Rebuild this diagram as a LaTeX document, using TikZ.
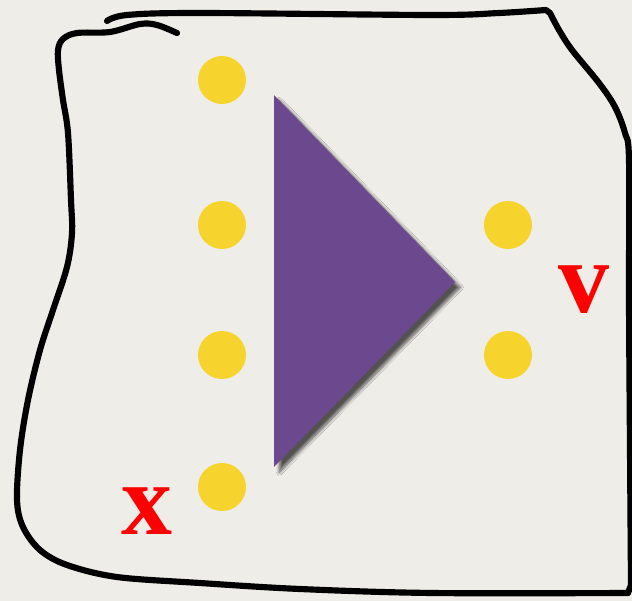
\documentclass[tikz,border=0pt]{standalone}
\usepackage{xcolor}
\usepackage{fontspec}
\newfontfamily\labelfont{Liberation Serif}
\usetikzlibrary{shadows.blur}

\definecolor{paper}{RGB}{239,237,232}
\definecolor{dotYellow}{RGB}{246,212,45}
\definecolor{triPurple}{RGB}{108,72,142}

\begin{document}
\begin{tikzpicture}[
    x=0.02cm, y=-0.02cm,
    % ── shapes ──
    dot/.style      = {circle, fill=dotYellow, draw=none,
                       minimum size=0.96cm, inner sep=0pt},
    tri/.style      = {fill=triPurple, draw=none,
                       blur shadow={shadow xshift=3pt, shadow yshift=-3pt,
                                    shadow blur steps=10, shadow opacity=65}},
    % ── hand-drawn frame ──
    frame/.style    = {draw=black, line width=3.5pt, line cap=round,
                       line join=round},
    % ── text styles ──
    varLabel/.style = {font=\labelfont\bfseries\fontsize{58}{60}\selectfont,
                       text=red, inner sep=0pt},
]

% =====================================================================
% paper background   (632 x 601 px)
% =====================================================================
\fill[paper] (0,0) rectangle (632,601);
\useasboundingbox (0,0) rectangle (632,601);

% =====================================================================
% frame   (one stroke, starts top left, ends in the small wave)
% =====================================================================
\draw[frame] plot[smooth, tension=0.55] coordinates {
    (107,21) (127,15) (200,13) (432,15) (499,13) (546,10)}
  -- plot[smooth, tension=0.55] coordinates {
    (550,13) (559,30) (572,50) (599,83) (615,107) (625,133) (629,160)
    (629,300) (630,450) (631,585)}
  -- plot[smooth, tension=0.55] coordinates {
    (628,593) (432,593) (300,589) (200,583) (117,577) (67,565) (40,550)
    (23,527) (17,500) (20,450) (28,400) (40,350) (53,310) (67,267)
    (72,233) (71,200) (68,133) (63,100) (59,70) (58,50) (63,39)
    (77,33) (110,32) (140,24) (157,25) (177,33)};

% =====================================================================
% input dots   (x = 222)
% =====================================================================
\foreach \y [count=\i] in {80,225,355,487}{
  \node[dot] (in\i) at (222,\y) {};
}

% =====================================================================
% triangle
% =====================================================================
\fill[tri] (274,95) -- (455,282) -- (274,467) -- cycle;

% =====================================================================
% output dots   (x = 508)
% =====================================================================
\node[dot] (out1) at (508,225) {};
\node[dot] (out2) at (508,355) {};

% =====================================================================
% labels
% =====================================================================
\node[varLabel] (lblx) at (147,511) {x};
\node[varLabel] (lblv) at (584,290) {v};

\end{tikzpicture}
\end{document}
